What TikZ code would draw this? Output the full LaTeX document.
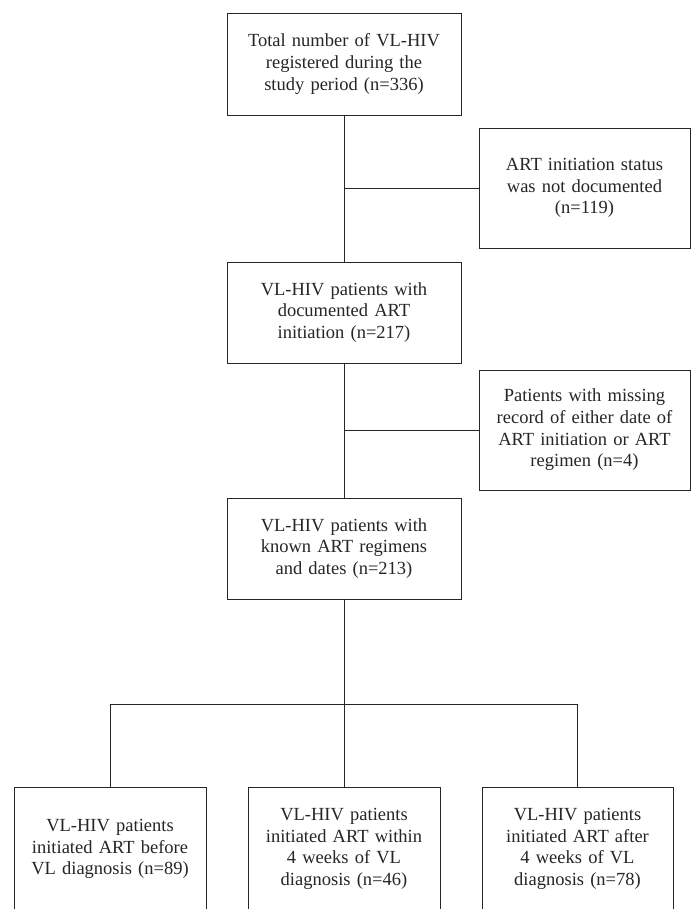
\documentclass[tikz,border=0pt]{standalone}
\usepackage{fontspec}
\setmainfont{Liberation Serif}
\begin{document}
\begin{tikzpicture}[x=1pt,y=-1pt,
  box/.style={draw=black!85, line width=0.9pt, rectangle, align=center, inner sep=0pt,
    font=\fontsize{18.5}{21.7}\selectfont, text=black!85},
  conn/.style={draw=black!85, line width=0.9pt}]
\useasboundingbox[fill=white] (0,0) rectangle (691,916);
\node[box, minimum width=234pt, minimum height=102pt, text width=225pt] (top) at (344,64)
  {Total number of VL-HIV\\registered during the\\study period (n=336)};
\node[box, minimum width=211pt, minimum height=120pt, text width=205pt] (ex1) at (584.5,188)
  {ART initiation status\\was not documented\\(n=119)};
\node[box, minimum width=234pt, minimum height=101pt, text width=225pt] (mid) at (344,312.5)
  {VL-HIV patients with\\documented ART\\initiation (n=217)};
\node[box, minimum width=211pt, minimum height=120pt, text width=205pt] (ex2) at (584.5,430)
  {Patients with missing\\record of either date of\\ART initiation or ART\\regimen (n=4)};
\node[box, minimum width=234pt, minimum height=101pt, text width=225pt] (known) at (344,548.5)
  {VL-HIV patients with\\known ART regimens\\and dates (n=213)};
\begin{scope}
\clip (0,0) rectangle (691,908);
\node[box, minimum width=192pt, minimum height=124pt, text width=188pt] (g1) at (110,849)
  {VL-HIV patients\\initiated ART before\\VL diagnosis (n=89)};
\node[box, minimum width=192pt, minimum height=124pt, text width=188pt] (g2) at (344,849)
  {VL-HIV patients\\initiated ART within\\4 weeks of VL\\diagnosis (n=46)};
\node[box, minimum width=191pt, minimum height=124pt, text width=188pt] (g3) at (577.5,849)
  {VL-HIV patients\\initiated ART after\\4 weeks of VL\\diagnosis (n=78)};
\end{scope}
\coordinate (split) at (344,704);
\draw[conn] (top.south) -- (mid.north);
\draw[conn] (top.south |- ex1.west) -- (ex1.west);
\draw[conn] (mid.south) -- (known.north);
\draw[conn] (mid.south |- ex2.west) -- (ex2.west);
\draw[conn] (known.south) -- (split);
\draw[conn] (g1.north) -- (g1.north |- split) -- (g3.north |- split) -- (g3.north);
\draw[conn] (split) -- (g2.north);
\end{tikzpicture}
\end{document}
